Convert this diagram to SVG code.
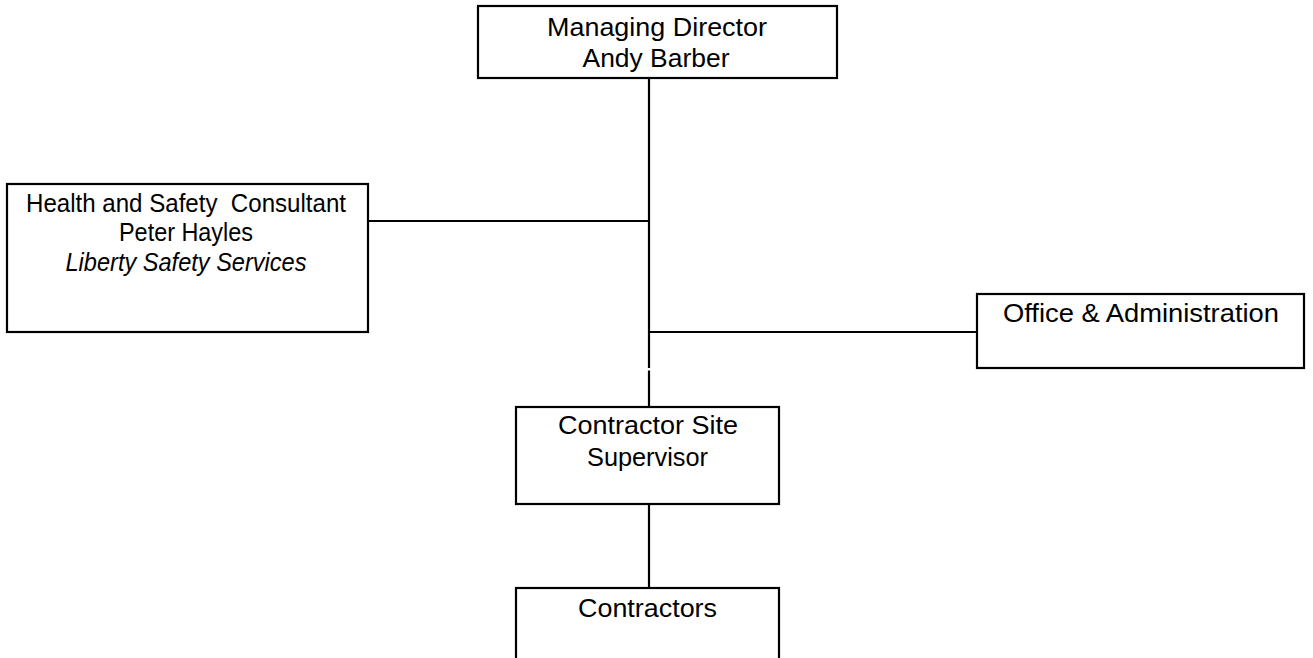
<svg xmlns="http://www.w3.org/2000/svg" width="1313" height="658" viewBox="0 0 1313 658">
<style>
.box{fill:#fff;stroke:#000;stroke-width:2.2}
.ln{stroke:#000;stroke-width:2.2;fill:none}
.t{font-family:"Liberation Sans",Arial,sans-serif;font-size:26px;fill:#000;text-anchor:middle}
.i{font-style:italic}
</style>
<rect width="1313" height="658" fill="#fff"/>
<g id="connectors">
<line class="ln" x1="649" y1="78" x2="649" y2="368"/>
<line class="ln" x1="649" y1="370.5" x2="649" y2="407"/>
<line class="ln" x1="368" y1="221" x2="649" y2="221"/>
<line class="ln" x1="649" y1="332" x2="977" y2="332"/>
<line class="ln" x1="649" y1="504" x2="649" y2="588"/>
</g>
<g id="managing-director">
<rect class="box" x="478" y="6" width="359" height="72"/>
<text class="t" x="657" y="36" textLength="220" lengthAdjust="spacingAndGlyphs">Managing Director</text>
<text class="t" x="656" y="67" textLength="147" lengthAdjust="spacingAndGlyphs">Andy Barber</text>
</g>
<g id="hs-consultant">
<rect class="box" x="7" y="184" width="361" height="148"/>
<text class="t" x="186" y="212" xml:space="preserve" textLength="320" lengthAdjust="spacingAndGlyphs">Health and Safety  Consultant</text>
<text class="t" x="186" y="241" textLength="134" lengthAdjust="spacingAndGlyphs">Peter Hayles</text>
<text class="t i" x="186" y="271" textLength="241" lengthAdjust="spacingAndGlyphs">Liberty Safety Services</text>
</g>
<g id="office-admin">
<rect class="box" x="977" y="294" width="327" height="74"/>
<text class="t" x="1141" y="322" textLength="276" lengthAdjust="spacingAndGlyphs">Office &amp; Administration</text>
</g>
<g id="site-supervisor">
<rect class="box" x="516" y="407" width="263" height="97"/>
<text class="t" x="648" y="434" textLength="180" lengthAdjust="spacingAndGlyphs">Contractor Site</text>
<text class="t" x="647.5" y="466" textLength="121" lengthAdjust="spacingAndGlyphs">Supervisor</text>
</g>
<g id="contractors">
<rect class="box" x="516" y="588" width="263" height="90"/>
<text class="t" x="647.5" y="617" textLength="139" lengthAdjust="spacingAndGlyphs">Contractors</text>
</g>
</svg>
